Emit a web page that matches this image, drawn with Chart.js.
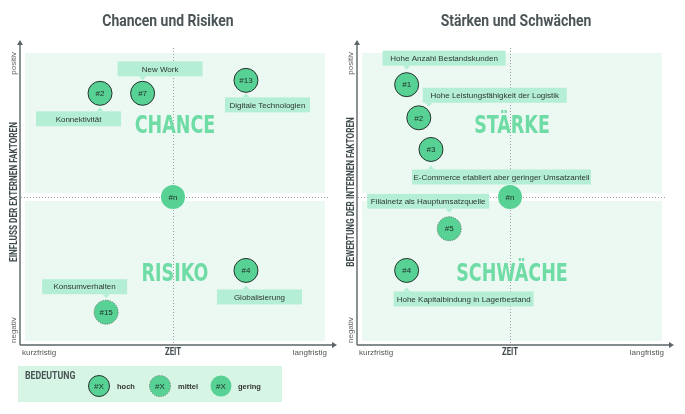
<!DOCTYPE html>
<html>
<head>
<meta charset="utf-8">
<script src="https://cdn.jsdelivr.net/npm/chart.js@4.4.1/dist/chart.umd.min.js"></script>
<style>
html,body{margin:0;padding:0;background:#fff;}
#wrap{position:relative;width:685px;height:414px;}
#wrap canvas{position:absolute;left:0;top:0;}
</style>
</head>
<body>
<div id="wrap">
  <canvas id="chance" width="685" height="414"></canvas>
  <canvas id="staerke" width="685" height="414"></canvas>
</div>
<script>
// Chancen und Risiken (x: Zeit 0..10, y: Einfluss -10..10)
var chanceIds   = ['#2', '#7', '#13', '#n', '#4', '#15'];
var chanceX     = [2.6, 4.0, 7.4, 5, 7.4, 2.8];
var chanceY     = [7.2, 7.2, 8.1, 0, -5.1, -8.0];
var chanceLevel = ['hoch', 'hoch', 'hoch', 'gering', 'hoch', 'mittel'];
var chanceTexts = ['Konnektivität', 'New Work', 'Digitale Technologien', '', 'Globalisierung', 'Konsumverhalten'];

// Stärken und Schwächen
var staerkeIds   = ['#1', '#2', '#3', '#n', '#5', '#4'];
var staerkeX     = [1.6, 2.0, 2.4, 5, 3.0, 1.6];
var staerkeY     = [7.8, 5.5, 3.3, 0, -2.2, -5.1];
var staerkeLevel = ['hoch', 'hoch', 'hoch', 'gering', 'mittel', 'hoch'];
var staerkeTexts = ['Hohe Anzahl Bestandskunden', 'Hohe Leistungsfähigkeit der Logistik',
  'E-Commerce etabliert aber geringer Umsatzanteil', '', 'Filialnetz als Hauptumsatzquelle',
  'Hohe Kapitalbindung in Lagerbestand'];

var levelNames = ['hoch', 'mittel', 'gering'];

// callout placement (px offset of box from point, box width)
var chanceBoxes  = [[-64, 18, 85], [-25, -32, 85], [-21, 17, 85], null, [-29, 19, 85], [-64, -33, 85]];
var staerkeBoxes = [[-24, -34, 123], [4, -30, 144], [-19, 20, 179], null, [-82, -35, 122], [-13, 21, 140]];

var GREEN = '#58d294', BIG = '#6fdba5', BOX = '#b4efd5', BG = '#ecf8f2', DARK = '#4b5558', AXIS = '#5b6568';

function condText(ctx, txt, x, y, font, sx, align, color) {
  ctx.save();
  ctx.translate(x, y);
  ctx.scale(sx, 1);
  ctx.font = font;
  ctx.fillStyle = color;
  ctx.textAlign = align;
  ctx.textBaseline = 'middle';
  ctx.fillText(txt, 0, 0);
  ctx.restore();
}

function rotText(ctx, txt, x, y, font, sx, align, color) {
  ctx.save();
  ctx.translate(x, y);
  ctx.rotate(-Math.PI / 2);
  ctx.scale(sx, 1);
  ctx.font = font;
  ctx.fillStyle = color;
  ctx.textAlign = align;
  ctx.textBaseline = 'middle';
  ctx.fillText(txt, 0, 0);
  ctx.restore();
}

function dashedRing(ctx, x, y, r) {
  ctx.save();
  ctx.beginPath(); ctx.arc(x, y, r, 0, Math.PI * 2);
  ctx.strokeStyle = '#66756e'; ctx.lineWidth = 0.9; ctx.setLineDash([1.2, 1.2]); ctx.stroke();
  ctx.restore();
}

function bubble(ctx, x, y, r, level, label) {
  ctx.save();
  ctx.beginPath();
  ctx.arc(x, y, r, 0, Math.PI * 2);
  ctx.fillStyle = GREEN;
  ctx.fill();
  if (level === 'hoch') {
    ctx.strokeStyle = '#26332e'; ctx.lineWidth = 1; ctx.stroke();
  }
  ctx.restore();
  if (level === 'mittel') dashedRing(ctx, x, y, r);
  condText(ctx, label, x, y + 0.5, '8px "Liberation Sans"', 1, 'center', '#1e2b25');
}

function panelPlugin(p) {
  return {
    id: 'panel',
    beforeDatasetsDraw: function (chart) {
      var ctx = chart.ctx, a = chart.chartArea;
      var sx = chart.scales.x, sy = chart.scales.y;
      var cx = sx.getPixelForValue(5), cy = sy.getPixelForValue(0);
      ctx.save();
      ctx.fillStyle = BG;
      ctx.fillRect(a.left + 4, a.top, a.right - a.left - 4, cy - 4 - a.top);
      ctx.fillRect(a.left + 4, cy + 4, a.right - a.left - 4, a.bottom - cy - 4);
      ctx.strokeStyle = '#9aa3a0';
      ctx.lineWidth = 1;
      ctx.setLineDash([1, 2]);
      ctx.beginPath();
      ctx.moveTo(a.left, cy + 0.5); ctx.lineTo(a.right + 4, cy + 0.5);
      ctx.moveTo(cx + 0.5, a.top - 5); ctx.lineTo(cx + 0.5, a.bottom + 4);
      ctx.stroke();
      ctx.restore();
      condText(ctx, p.top, cx + p.bigDx, cy - 71, 'bold 25px "DejaVu Sans"', 0.7, 'center', BIG);
      condText(ctx, p.bottom, cx + p.bigDx, cy + 77, 'bold 25px "DejaVu Sans"', 0.7, 'center', BIG);
    },
    afterDatasetsDraw: function (chart) {
      var ctx = chart.ctx, a = chart.chartArea;
      var sx = chart.scales.x, sy = chart.scales.y;
      var cx = sx.getPixelForValue(5);
      var meta = chart.getDatasetMeta(0);
      meta.data.forEach(function (el, i) {
        var x = el.x, y = el.y;
        if (p.level[i] === 'mittel') dashedRing(ctx, x, y, 12);
        condText(ctx, p.ids[i], x, y + 0.5, '8px "Liberation Sans"', 1, 'center', '#1e2b25');
        var b = p.boxes[i];
        if (!b) return;
        var bx = x + b[0], by = y + b[1], bw = b[2], bh = 15;
        ctx.save();
        ctx.fillStyle = BOX;
        ctx.fillRect(bx, by, bw, bh);
        var ax = Math.max(bx + 6, Math.min(bx + bw - 6, x));
        ctx.beginPath();
        if (b[1] < 0) {
          ctx.moveTo(ax - 3.5, by + bh); ctx.lineTo(ax + 3.5, by + bh); ctx.lineTo(ax, by + bh + 4);
        } else {
          ctx.moveTo(ax - 3.5, by); ctx.lineTo(ax + 3.5, by); ctx.lineTo(ax, by - 4);
        }
        ctx.fill();
        ctx.restore();
        condText(ctx, p.texts[i], bx + bw / 2, by + bh / 2 + 0.5, '8px "Liberation Sans"', 1, 'center', '#2f3533');
      });

      // axes with arrows
      var ax0 = a.left - 1, ay0 = a.bottom + 4;
      ctx.save();
      ctx.strokeStyle = AXIS; ctx.fillStyle = AXIS; ctx.lineWidth = 1.4;
      ctx.beginPath();
      ctx.moveTo(ax0, ay0); ctx.lineTo(ax0, a.top - 9);
      ctx.moveTo(ax0, ay0); ctx.lineTo(a.right + 8, ay0);
      ctx.stroke();
      ctx.beginPath();
      ctx.moveTo(ax0 - 3, a.top - 8); ctx.lineTo(ax0 + 3, a.top - 8); ctx.lineTo(ax0, a.top - 13); ctx.fill();
      ctx.beginPath();
      ctx.moveTo(a.right + 7, ay0 - 3); ctx.lineTo(a.right + 7, ay0 + 3); ctx.lineTo(a.right + 12, ay0); ctx.fill();
      ctx.restore();

      var ly = ay0 + 7.5;
      condText(ctx, 'kurzfristig', a.left + 1, ly, '8px "Liberation Sans"', 1, 'left', '#555');
      condText(ctx, 'langfristig', a.right + 2, ly, '8px "Liberation Sans"', 1, 'right', '#555');
      condText(ctx, 'ZEIT', cx, ly, 'bold 10px Roboto', 0.78, 'center', '#3f4a4d');

      rotText(ctx, 'positiv', ax0 - 6, a.top - 1, '8px "Liberation Sans"', 1, 'right', '#666');
      rotText(ctx, 'negativ', ax0 - 6, a.bottom + 2, '8px "Liberation Sans"', 1, 'left', '#666');
      rotText(ctx, p.yTitle, ax0 - 6, sy.getPixelForValue(0) - 5, 'bold 10.5px Roboto', 0.78, 'center', '#3f4a4d');

      condText(ctx, p.title, cx + p.titleDx, 22, 'bold 17px Roboto', 0.82, 'center', DARK);

      if (p.legend) {
        ctx.save();
        ctx.fillStyle = '#d7f5e5';
        ctx.fillRect(18, 366, 264, 36);
        ctx.restore();
        condText(ctx, 'BEDEUTUNG', 25, 376, 'bold 11px Roboto', 0.8, 'left', DARK);
        var lx = [99, 160, 221], tx = [117, 178, 238];
        levelNames.forEach(function (n, k) {
          bubble(ctx, lx[k], 386, 10.5, n, '#X');
          condText(ctx, n, tx[k], 386.5, 'bold 7.5px "Liberation Sans"', 1, 'left', '#333');
        });
      }
    }
  };
}

function makeChart(id, p) {
  var pts = p.x.map(function (v, i) { return { x: v, y: p.y[i] }; });
  return new Chart(document.getElementById(id), {
    type: 'scatter',
    data: {
      datasets: [{
        data: pts,
        clip: false,
        pointRadius: 12,
        pointHoverRadius: 12,
        pointBackgroundColor: GREEN,
        pointBorderColor: p.level.map(function (l) { return l === 'hoch' ? '#26332e' : 'rgba(0,0,0,0)'; }),
        pointBorderWidth: p.level.map(function (l) { return l === 'hoch' ? 1 : 0; })
      }]
    },
    options: {
      responsive: false,
      animation: false,
      events: [],
      layout: { padding: p.padding },
      scales: {
        x: { type: 'linear', min: 0, max: 10, display: false },
        y: { type: 'linear', min: -10, max: 10, display: false }
      },
      plugins: { legend: { display: false }, tooltip: { enabled: false } }
    },
    plugins: [panelPlugin(p)]
  });
}

makeChart('chance', {
  x: chanceX, y: chanceY, ids: chanceIds, level: chanceLevel, texts: chanceTexts, boxes: chanceBoxes,
  title: 'Chancen und Risiken', titleDx: -5, top: 'CHANCE', bottom: 'RISIKO', bigDx: 2,
  yTitle: 'EINFLUSS DER EXTERNEN FAKTOREN', legend: true,
  padding: { left: 21, right: 360, top: 53, bottom: 73 }
});

makeChart('staerke', {
  x: staerkeX, y: staerkeY, ids: staerkeIds, level: staerkeLevel, texts: staerkeTexts, boxes: staerkeBoxes,
  title: 'Stärken und Schwächen', titleDx: 6, top: 'STÄRKE', bottom: 'SCHWÄCHE', bigDx: 2,
  yTitle: 'BEWERTUNG DER INTERNEN FAKTOREN', legend: false,
  padding: { left: 358, right: 23, top: 53, bottom: 73 }
});
</script>
</body>
</html>
